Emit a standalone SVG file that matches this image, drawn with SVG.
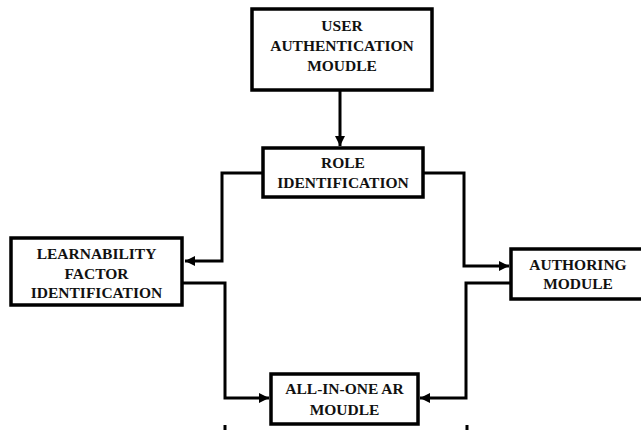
<svg xmlns="http://www.w3.org/2000/svg" width="641" height="430" viewBox="0 0 641 430">
<defs>
<style>
.box{fill:#fff;stroke:#000;stroke-width:3.5}
.t{font-family:'Liberation Serif','DejaVu Serif',serif;font-weight:700;font-size:15.5px;fill:#111;text-anchor:middle}
.c{fill:none;stroke:#000;stroke-width:3;stroke-linejoin:miter}
</style>
<marker id="ah" markerUnits="userSpaceOnUse" markerWidth="10" markerHeight="10" refX="9" refY="4.5" orient="auto" viewBox="0 0 9 9">
<path d="M0,0 L9,4.5 L0,9 z" fill="#000"/>
</marker>
</defs>
<rect width="641" height="430" fill="#fff"/>
<g id="connectors">
<path class="c" d="M340 91 V146" marker-end="url(#ah)"/>
<path class="c" d="M263 173 H222 V261 H185" marker-end="url(#ah)"/>
<path class="c" d="M423 173 H464 V266 H509" marker-end="url(#ah)"/>
<path class="c" d="M182 283 H225 V398 H269" marker-end="url(#ah)"/>
<path class="c" d="M511 283 H466 V398 H420" marker-end="url(#ah)"/>
<path class="c" d="M225 425 V430"/>
<path class="c" d="M467 425 V430"/>
</g>
<g id="user-auth">
<rect class="box" x="252" y="9" width="180" height="81"/>
<text class="t" x="342" y="31">USER</text>
<text class="t" x="342" y="51">AUTHENTICATION</text>
<text class="t" x="342" y="71">MOUDLE</text>
</g>
<g id="role">
<rect class="box" x="263" y="148" width="160" height="49"/>
<text class="t" x="343" y="168">ROLE</text>
<text class="t" x="343" y="188">IDENTIFICATION</text>
</g>
<g id="learnability">
<rect class="box" x="11" y="238" width="171" height="67"/>
<text class="t" x="96.5" y="259">LEARNABILITY</text>
<text class="t" x="96.5" y="279">FACTOR</text>
<text class="t" x="96.5" y="298">IDENTIFICATION</text>
</g>
<g id="authoring">
<rect class="box" x="511" y="249" width="140" height="50"/>
<text class="t" x="578" y="270">AUTHORING</text>
<text class="t" x="578" y="289">MODULE</text>
</g>
<g id="allinone">
<rect class="box" x="271" y="374" width="147" height="50"/>
<text class="t" x="344.5" y="394">ALL-IN-ONE AR</text>
<text class="t" x="344.5" y="415">MOUDLE</text>
</g>
</svg>
